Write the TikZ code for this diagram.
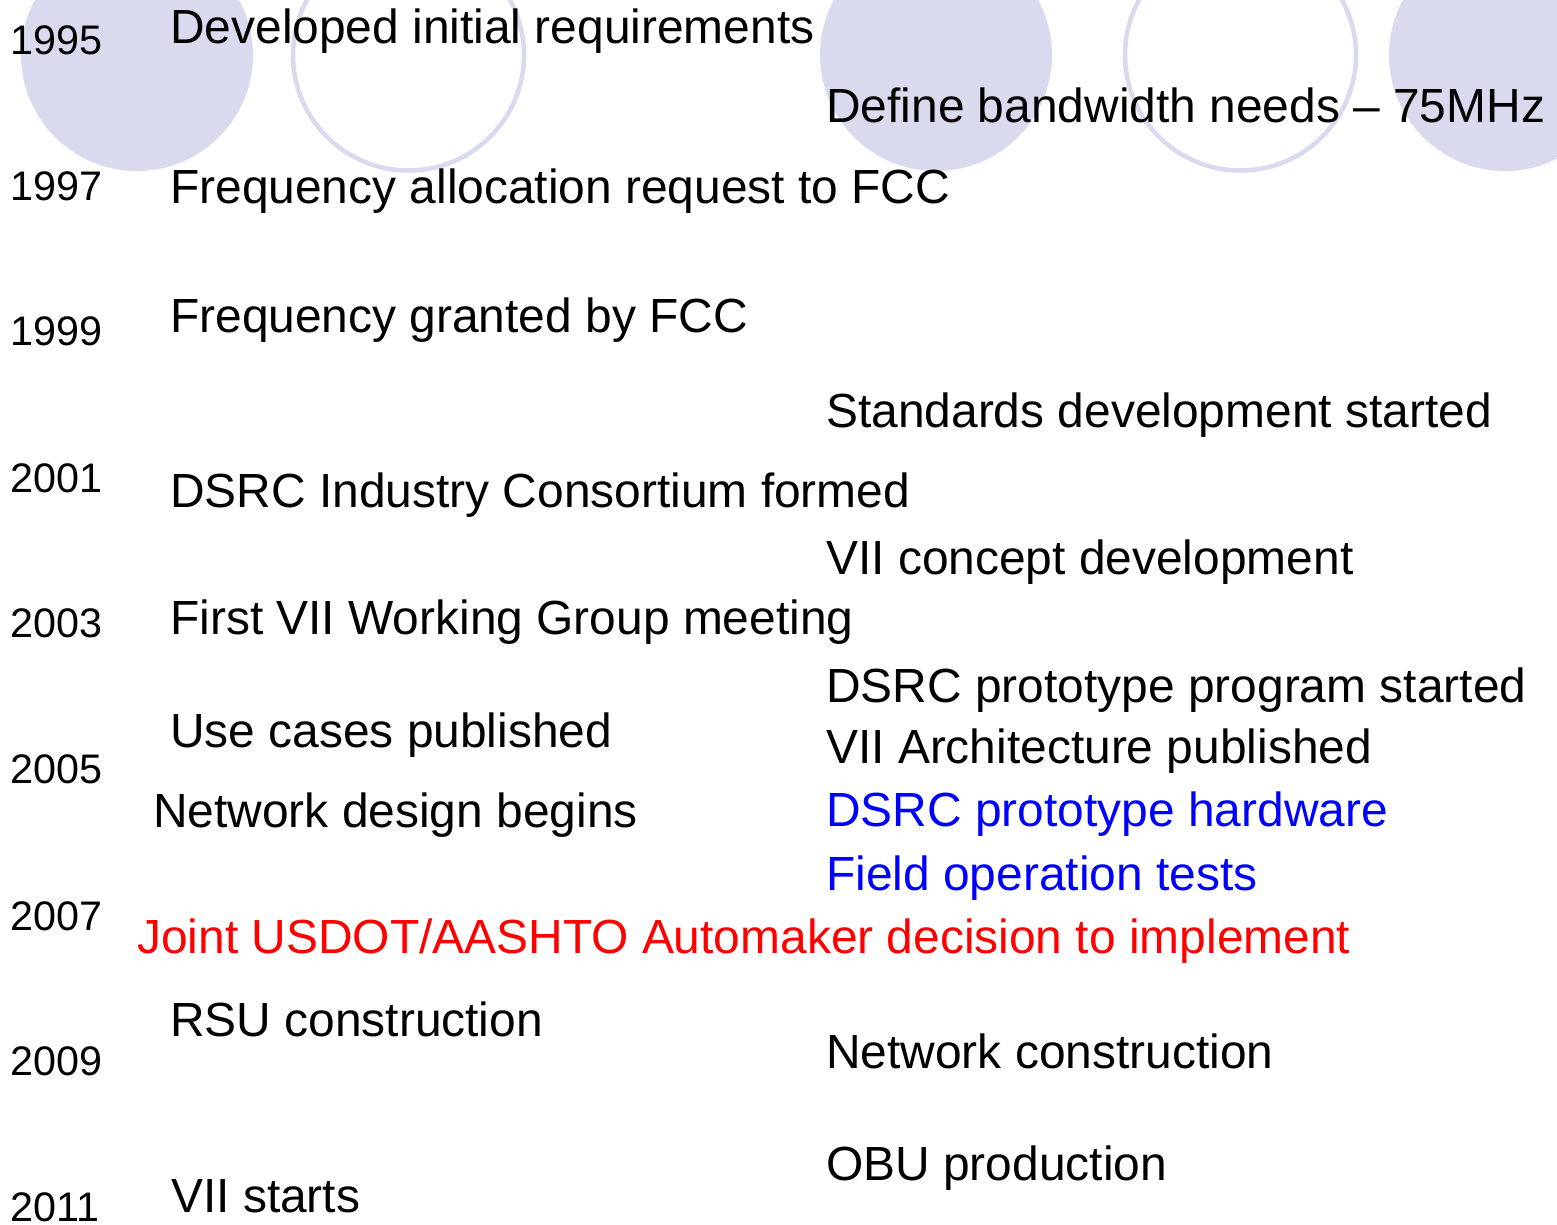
\documentclass[tikz,border=0pt]{standalone}
\usepackage{fontspec}
\setmainfont{Liberation Sans}
\definecolor{lav}{RGB}{218,218,238}
\definecolor{evred}{RGB}{255,0,0}
\definecolor{evblue}{RGB}{0,0,255}
\begin{document}
\begin{tikzpicture}[x=1pt,y=1pt,
  yearlbl/.style={anchor=base west,inner sep=0pt,font=\fontsize{41.3}{48}\selectfont},
  evlbl/.style={anchor=base west,inner sep=0pt,font=\fontsize{47.9}{57}\selectfont},
  discfull/.style={fill=lav,draw=none},
  discring/.style={draw=lav,line width=4.5pt,fill=none}]
\useasboundingbox (0,0) rectangle (1557,-1224);
% decorative circles
\clip (0,0) rectangle (1557,-1224);
\fill[discfull] (137,-55) circle (116);
\draw[discring] (408.5,-55) circle (115.5);
\fill[discfull] (936,-55) circle (116);
\draw[discring] (1240.5,-55) circle (115.5);
\fill[discfull] (1505,-55) circle (116);
% years
\node[yearlbl] (y95) at (10,-54) {1995};
\node[yearlbl] (y97) at (10,-200) {1997};
\node[yearlbl] (y99) at (10,-345) {1999};
\node[yearlbl] (y01) at (10,-492) {2001};
\node[yearlbl] (y03) at (10,-637) {2003};
\node[yearlbl] (y05) at (10,-783) {2005};
\node[yearlbl] (y07) at (10,-930) {2007};
\node[yearlbl] (y09) at (10,-1075) {2009};
\node[yearlbl] (y11) at (10,-1221) {2011};
% left column events
\node[evlbl] (l1) at (170,-43) {Developed initial requirements};
\node[evlbl] (l2) at (170,-203) {Frequency allocation request to FCC};
\node[evlbl] (l3) at (170,-332) {Frequency granted by FCC};
\node[evlbl] (l4) at (170,-507) {DSRC Industry Consortium formed};
\node[evlbl] (l5) at (170,-634) {First VII Working Group meeting};
\node[evlbl] (l6) at (170,-747) {Use cases published};
\node[evlbl] (l7) at (153,-827) {Network design begins};
\node[evlbl,text=evred] (l8) at (137,-953) {Joint USDOT/AASHTO Automaker decision to implement};
\node[evlbl] (l9) at (170,-1036) {RSU construction};
\node[evlbl] (l10) at (171,-1212) {VII starts};
% right column events
\node[evlbl] (r1) at (826,-122) {Define bandwidth needs – 75MHz};
\node[evlbl] (r2) at (826,-427) {Standards development started};
\node[evlbl] (r3) at (826,-574) {VII concept development};
\node[evlbl] (r4) at (826,-702) {DSRC prototype program started};
\node[evlbl] (r5) at (826,-763) {VII Architecture published};
\node[evlbl,text=evblue] (r6) at (826,-826) {DSRC prototype hardware};
\node[evlbl,text=evblue] (r7) at (826,-890) {Field operation tests};
\node[evlbl] (r8) at (826,-1068) {Network construction};
\node[evlbl] (r9) at (826,-1180) {OBU production};
\end{tikzpicture}
\end{document}
